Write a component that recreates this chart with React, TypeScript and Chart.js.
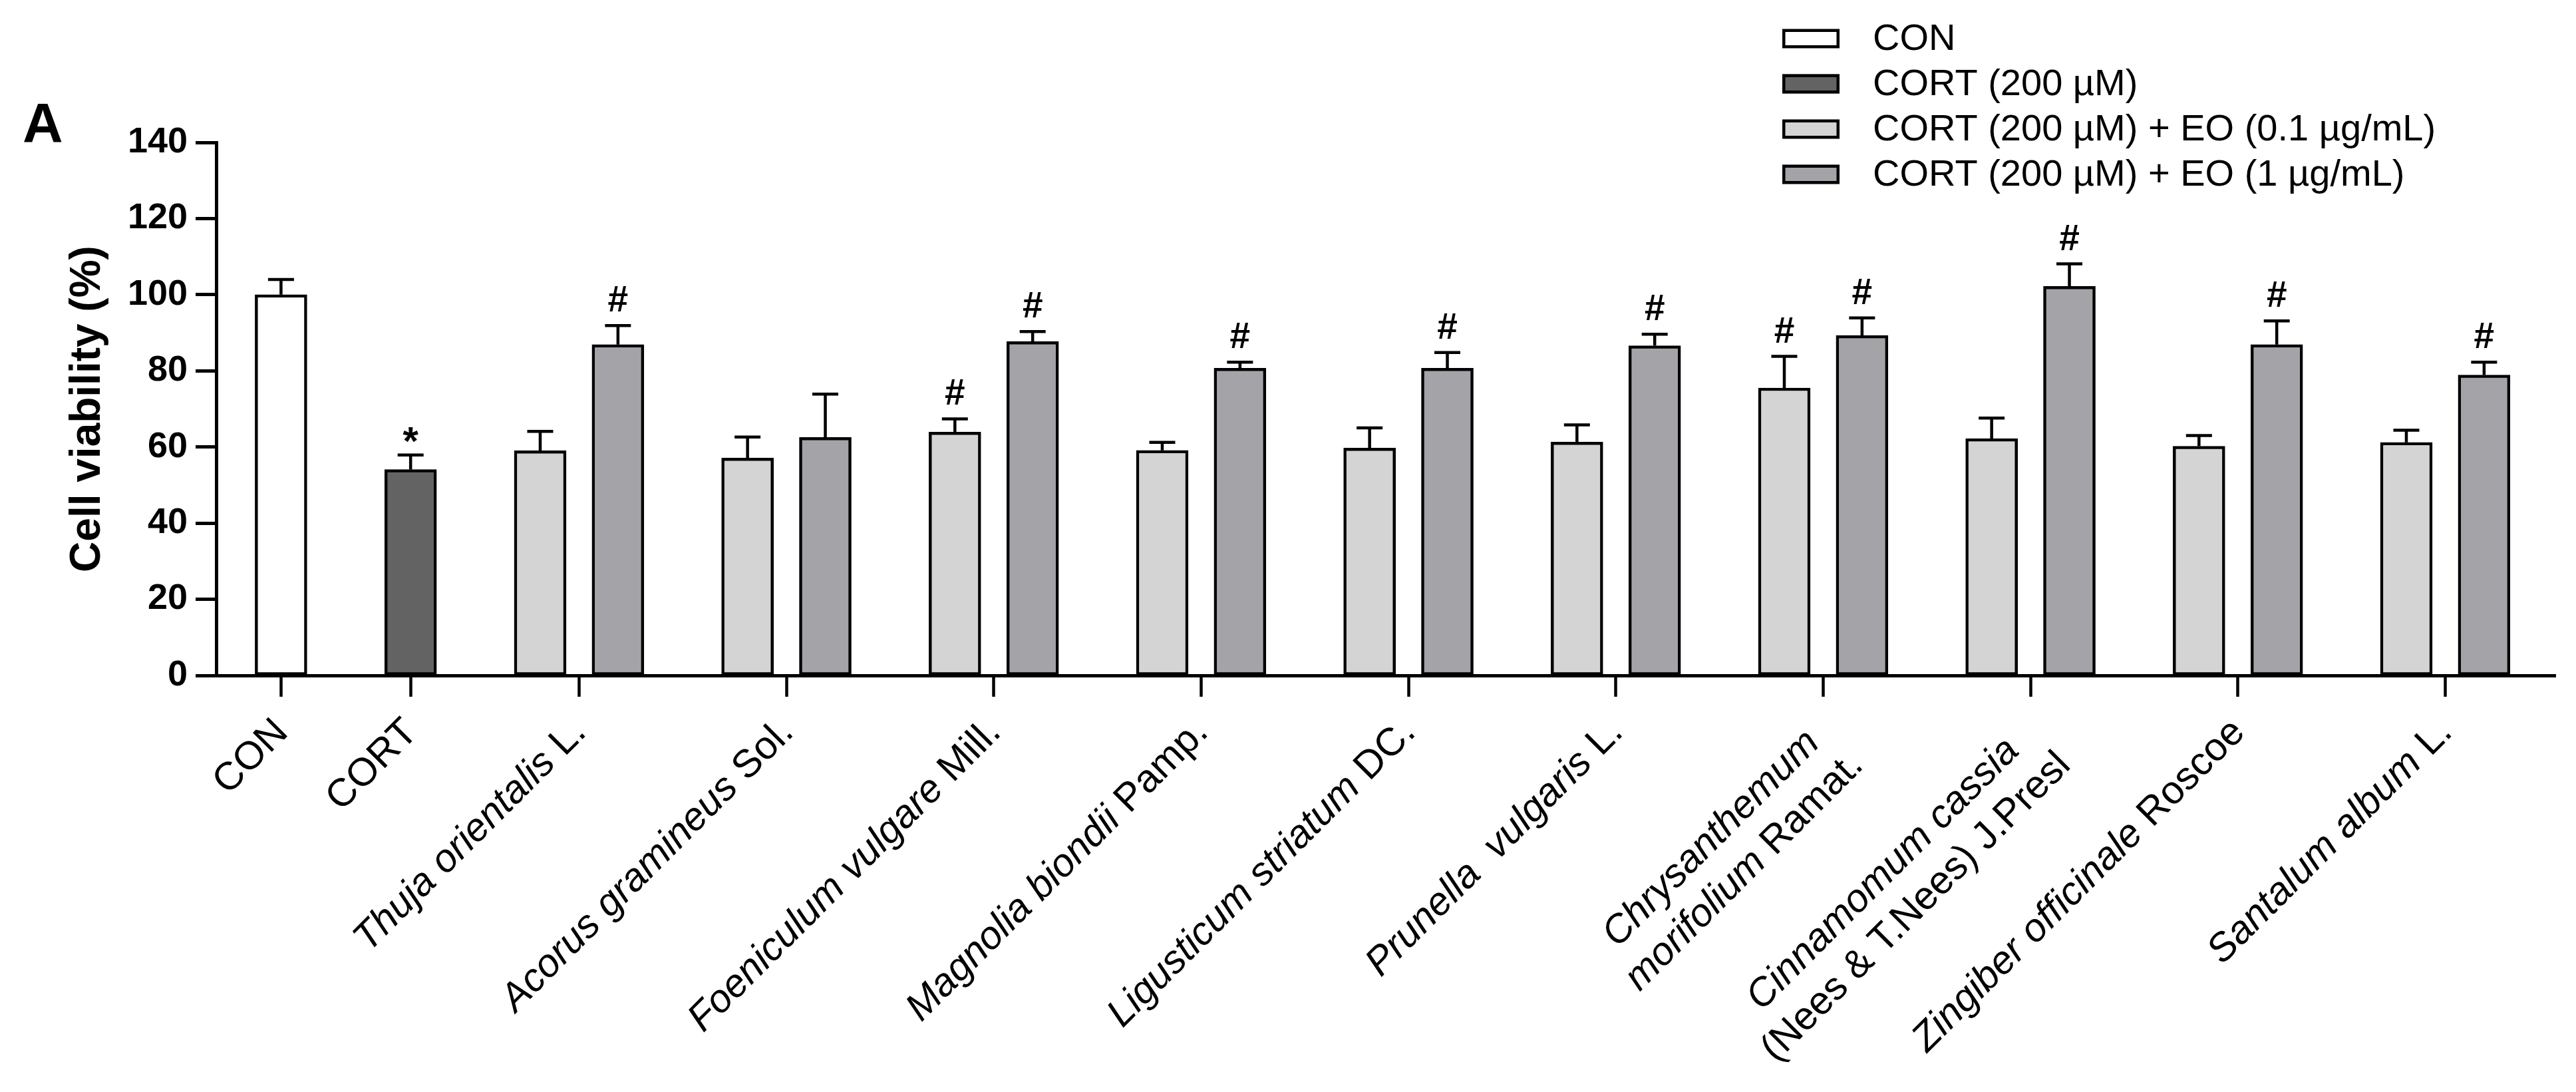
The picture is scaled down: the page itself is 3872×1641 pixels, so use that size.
import React, { useEffect, useRef } from 'react';
import { Chart, registerables } from 'chart.js';

Chart.register(...registerables);

const W = 3872;
const H = 1641;
const FONT = '"Liberation Sans", Arial, Helvetica, sans-serif';

// ---------- data ----------
// category labels (lines of each tick label)
const categories: string[][] = [
  ['CON'],
  ['CORT'],
  ['Thuja orientalis L.'],
  ['Acorus gramineus Sol.'],
  ['Foeniculum vulgare Mill.'],
  ['Magnolia biondii Pamp.'],
  ['Ligusticum striatum DC.'],
  ['Prunella  vulgaris L.'],
  ['Chrysanthemum', 'morifolium Ramat.'],
  ['Cinnamomum cassia', '(Nees & T.Nees) J.Presl'],
  ['Zingiber officinale Roscoe'],
  ['Santalum album L.'],
];
// the italic (Latin binomial) part of each category label
const binomials = [
  '',
  '',
  'Thuja orientalis',
  'Acorus gramineus',
  'Foeniculum vulgare',
  'Magnolia biondii',
  'Ligusticum striatum',
  'Prunella vulgaris',
  'Chrysanthemum morifolium',
  'Cinnamomum cassia',
  'Zingiber officinale',
  'Santalum album',
];

const seriesLabels = [
  'CON',
  'CORT (200 µM)',
  'CORT (200 µM) + EO (0.1 µg/mL)',
  'CORT (200 µM) + EO (1 µg/mL)',
];

const conMean = [100.0];
const conErr = [4.0];
const conSig = [''];

const cortMean = [54.1];
const cortErr = [3.8];
const cortSig = ['*'];

const eoLowMean = [59.0, 57.1, 63.9, 59.1, 59.7, 61.3, 75.5, 62.2, 60.2, 61.2];
const eoLowErr = [5.1, 5.5, 3.5, 2.1, 5.3, 4.5, 8.3, 5.4, 2.8, 3.2];
const eoLowSig = ['', '', '#', '', '', '', '#', '', '', ''];

const eoHighMean = [86.9, 62.5, 87.7, 80.7, 80.7, 86.6, 89.3, 102.2, 86.9, 78.9];
const eoHighErr = [5.0, 11.4, 2.6, 1.6, 4.1, 3.0, 4.6, 5.9, 6.2, 3.4];
const eoHighSig = ['#', '', '#', '#', '#', '#', '#', '#', '#', '#'];

const yTickValues = [0, 20, 40, 60, 80, 100, 120, 140];
const yTitle = 'Cell viability (%)';
const panelLabel = 'A';

// ---------- styles ----------
const seriesColors = ['#ffffff', '#636363', '#d4d4d4', '#a3a3a8'];

// x layout in axis units
const X_CON = 0;
const X_CORT = 5;
const X_FIRST = 11.5;
const GROUP_STEP = 8;
const PAIR_HALF = 1.5;

const groupCenters = eoLowMean.map((_, i) => X_FIRST + GROUP_STEP * i);
const tickPositions = [X_CON, X_CORT, ...groupCenters];

const errSets = [conErr, cortErr, eoLowErr, eoHighErr];
const sigSets = [conSig, cortSig, eoLowSig, eoHighSig];

const LABEL_SIZE = 59;
const LABEL_LINE = 70;

const annotationsPlugin = {
  id: 'annotations',
  afterDatasetsDraw(chart: any) {
    const ctx = chart.ctx as CanvasRenderingContext2D;
    const yScale = chart.scales.y;
    ctx.save();
    ctx.strokeStyle = '#000';
    ctx.fillStyle = '#000';
    ctx.lineWidth = 4.5;
    chart.data.datasets.forEach((ds: any, di: number) => {
      const meta = chart.getDatasetMeta(di);
      meta.data.forEach((bar: any, i: number) => {
        const v = ds.data[i].y;
        const e = errSets[di][i];
        const yBase = yScale.getPixelForValue(v);
        const yTop = yScale.getPixelForValue(v + e);
        ctx.beginPath();
        ctx.moveTo(bar.x, yBase);
        ctx.lineTo(bar.x, yTop);
        ctx.moveTo(bar.x - 19.5, yTop);
        ctx.lineTo(bar.x + 19.5, yTop);
        ctx.stroke();
        const s = sigSets[di][i];
        if (s) {
          ctx.font = s === '*' ? `bold 60px ${FONT}` : `bold 55px ${FONT}`;
          ctx.textAlign = 'center';
          ctx.textBaseline = 'alphabetic';
          const off = s === '*' ? 1 : 21;
          ctx.fillText(s, bar.x, yTop - off);
        }
      });
    });
    ctx.restore();
  },
  afterDraw(chart: any) {
    const ctx = chart.ctx as CanvasRenderingContext2D;
    const xScale = chart.scales.x;
    ctx.save();

    // rotated x-axis category labels (binomial italic, authority upright)
    const anchorY = xScale.top + 75;
    categories.forEach((lines, k) => {
      const italicWords = new Set(binomials[k].split(' ').filter(Boolean));
      const px = xScale.getPixelForValue(tickPositions[k]);
      const segLines = lines.map((line) =>
        line.split(/(\s+)/).filter((t) => t.length > 0).map((t) => {
          const italic = italicWords.has(t);
          ctx.font = `${italic ? 'italic ' : ''}${LABEL_SIZE}px ${FONT}`;
          return { t, italic, w: ctx.measureText(t).width };
        })
      );
      const widths = segLines.map((segs) => segs.reduce((a, s) => a + s.w, 0));
      const maxW = Math.max(...widths);
      ctx.save();
      ctx.translate(px, anchorY);
      ctx.rotate(-Math.PI / 4);
      ctx.fillStyle = '#000';
      ctx.textAlign = 'left';
      ctx.textBaseline = 'alphabetic';
      segLines.forEach((segs, j) => {
        const end = -(maxW - widths[j]) / 2;
        let u = end - widths[j];
        const v = 18.4 + j * LABEL_LINE;
        segs.forEach((s) => {
          ctx.font = `${s.italic ? 'italic ' : ''}${LABEL_SIZE}px ${FONT}`;
          ctx.fillText(s.t, u, v);
          u += s.w;
        });
      });
      ctx.restore();
    });

    // panel label
    ctx.fillStyle = '#000';
    ctx.font = `bold 84px ${FONT}`;
    ctx.textAlign = 'left';
    ctx.textBaseline = 'alphabetic';
    ctx.fillText(panelLabel, 34, 214);

    // legend
    const bx = 2679;
    const bw = 86;
    const bh = 29;
    ctx.font = `56px ${FONT}`;
    ctx.textBaseline = 'middle';
    seriesLabels.forEach((label, i) => {
      const cy = 58 + i * 68;
      ctx.fillStyle = seriesColors[i];
      ctx.fillRect(bx, cy - bh / 2, bw, bh);
      ctx.lineWidth = 4.5;
      ctx.strokeStyle = '#000';
      ctx.strokeRect(bx + 2.25, cy - bh / 2 + 2.25, bw - 4.5, bh - 4.5);
      ctx.fillStyle = '#000';
      ctx.fillText(label, 2815, cy + 2);
    });
    ctx.restore();
  },
};

export default function App() {
  const ref = useRef<HTMLCanvasElement>(null);

  useEffect(() => {
    if (!ref.current) return;
    const barStyle = {
      borderColor: '#000',
      borderWidth: 4.5,
      borderSkipped: false as const,
      barThickness: 78,
      grouped: false,
    };
    const chart = new Chart(ref.current, {
      type: 'bar',
      data: {
        datasets: [
          {
            label: seriesLabels[0],
            data: conMean.map((v) => ({ x: X_CON, y: v })),
            backgroundColor: seriesColors[0],
            ...barStyle,
          },
          {
            label: seriesLabels[1],
            data: cortMean.map((v) => ({ x: X_CORT, y: v })),
            backgroundColor: seriesColors[1],
            ...barStyle,
          },
          {
            label: seriesLabels[2],
            data: eoLowMean.map((v, i) => ({ x: groupCenters[i] - PAIR_HALF, y: v })),
            backgroundColor: seriesColors[2],
            ...barStyle,
          },
          {
            label: seriesLabels[3],
            data: eoHighMean.map((v, i) => ({ x: groupCenters[i] + PAIR_HALF, y: v })),
            backgroundColor: seriesColors[3],
            ...barStyle,
          },
        ] as any,
      },
      options: {
        animation: false,
        responsive: false,
        devicePixelRatio: 1,
        layout: { padding: { top: 214, left: 0, right: 31, bottom: 0 } },
        plugins: {
          legend: { display: false },
          tooltip: { enabled: false },
        },
        scales: {
          x: {
            type: 'linear',
            min: -2.5,
            max: 87.75,
            offset: false,
            grid: {
              display: true,
              drawOnChartArea: false,
              drawTicks: true,
              tickLength: 32,
              tickWidth: 4.5,
              tickColor: '#000',
              offset: false,
            },
            border: { display: true, color: '#000', width: 5 },
            afterBuildTicks: (scale: any) => {
              scale.ticks = tickPositions.map((v) => ({ value: v }));
            },
            afterFit: (scale: any) => {
              scale.height = H - 1015;
            },
            ticks: {
              display: false,
              autoSkip: false,
            },
          },
          y: {
            type: 'linear',
            min: 0,
            max: 140,
            grid: {
              display: true,
              drawOnChartArea: false,
              drawTicks: true,
              tickLength: 31,
              tickWidth: 5,
              tickColor: '#000',
            },
            border: { display: true, color: '#000', width: 5 },
            afterBuildTicks: (scale: any) => {
              scale.ticks = yTickValues.map((v) => ({ value: v }));
            },
            afterFit: (scale: any) => {
              scale.width = 325;
            },
            ticks: {
              padding: 12,
              color: '#000',
              font: { family: FONT, size: 54, weight: 'bold' },
              callback: (v: any) => String(v),
            },
            title: {
              display: true,
              text: yTitle,
              color: '#000',
              font: { family: FONT, size: 64, weight: 'bold' },
              padding: { top: 94, bottom: 0 },
            },
          },
        },
      } as any,
      plugins: [annotationsPlugin],
    });
    return () => chart.destroy();
  }, []);

  return (
    <div style={{ position: 'absolute', left: 0, top: 0, width: W, height: H, background: '#fff' }}>
      <canvas ref={ref} width={W} height={H} style={{ width: W, height: H, display: 'block' }} />
    </div>
  );
}
